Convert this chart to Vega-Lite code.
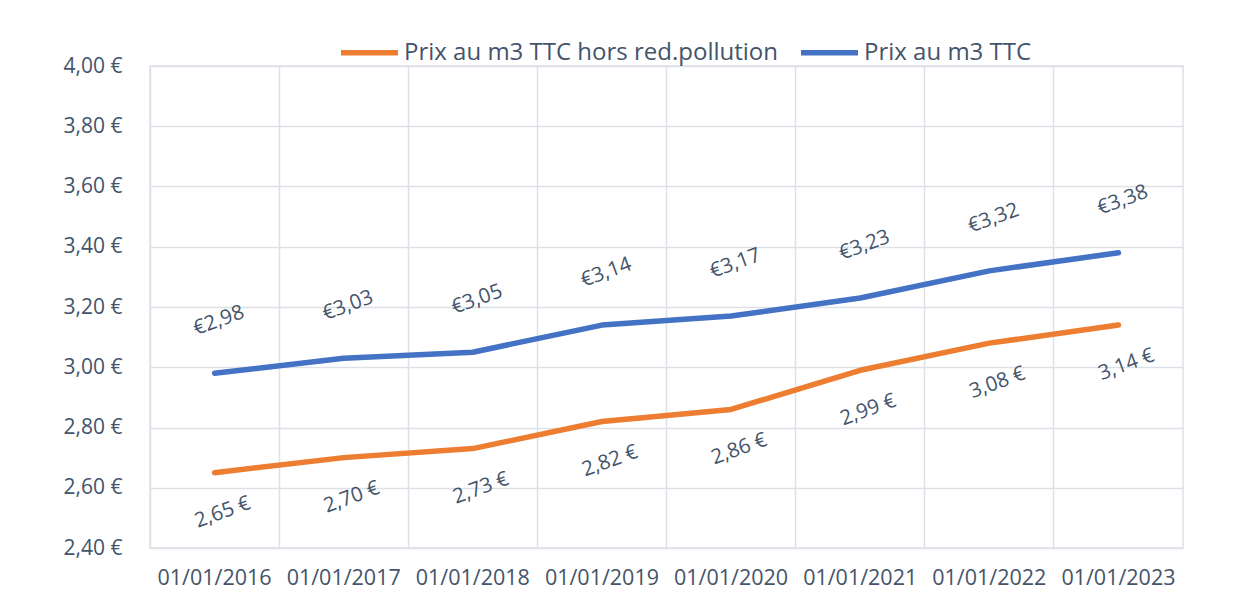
{
  "$schema": "https://vega.github.io/schema/vega-lite/v6.json",
  "width": 1033,
  "height": 482,
  "autosize": {"type": "none"},
  "padding": {"left": 150, "top": 66, "right": 51, "bottom": 68},
  "background": "white",
  "config": {
    "font": "Open Sans",
    "view": {"stroke": "#dde1e7", "strokeWidth": 1.5}
  },
  "data": {
    "values": [
      {"date": "01/01/2016", "series": "Prix au m3 TTC hors red.pollution", "value": 2.65, "label": "2,65 €"},
      {"date": "01/01/2017", "series": "Prix au m3 TTC hors red.pollution", "value": 2.70, "label": "2,70 €"},
      {"date": "01/01/2018", "series": "Prix au m3 TTC hors red.pollution", "value": 2.73, "label": "2,73 €"},
      {"date": "01/01/2019", "series": "Prix au m3 TTC hors red.pollution", "value": 2.82, "label": "2,82 €"},
      {"date": "01/01/2020", "series": "Prix au m3 TTC hors red.pollution", "value": 2.86, "label": "2,86 €"},
      {"date": "01/01/2021", "series": "Prix au m3 TTC hors red.pollution", "value": 2.99, "label": "2,99 €"},
      {"date": "01/01/2022", "series": "Prix au m3 TTC hors red.pollution", "value": 3.08, "label": "3,08 €"},
      {"date": "01/01/2023", "series": "Prix au m3 TTC hors red.pollution", "value": 3.14, "label": "3,14 €"},
      {"date": "01/01/2016", "series": "Prix au m3 TTC", "value": 2.98, "label": "€2,98"},
      {"date": "01/01/2017", "series": "Prix au m3 TTC", "value": 3.03, "label": "€3,03"},
      {"date": "01/01/2018", "series": "Prix au m3 TTC", "value": 3.05, "label": "€3,05"},
      {"date": "01/01/2019", "series": "Prix au m3 TTC", "value": 3.14, "label": "€3,14"},
      {"date": "01/01/2020", "series": "Prix au m3 TTC", "value": 3.17, "label": "€3,17"},
      {"date": "01/01/2021", "series": "Prix au m3 TTC", "value": 3.23, "label": "€3,23"},
      {"date": "01/01/2022", "series": "Prix au m3 TTC", "value": 3.32, "label": "€3,32"},
      {"date": "01/01/2023", "series": "Prix au m3 TTC", "value": 3.38, "label": "€3,38"}
    ]
  },
  "encoding": {
    "x": {
      "field": "date",
      "type": "ordinal",
      "sort": null,
      "scale": {"type": "band", "paddingInner": 0, "paddingOuter": 0},
      "axis": {
        "title": null,
        "bandPosition": 0,
        "grid": true,
        "gridColor": "#dde1e7",
        "gridWidth": 1.5,
        "ticks": false,
        "domain": false,
        "labelAngle": 0,
        "labelPadding": 30,
        "labelFontSize": 21.5,
        "labelColor": "#44546a",
        "labelBaseline": "middle"
      }
    },
    "y": {
      "field": "value",
      "type": "quantitative",
      "scale": {"domain": [2.4, 4.0], "nice": false, "zero": false},
      "axis": {
        "title": null,
        "values": [2.4, 2.6, 2.8, 3.0, 3.2, 3.4, 3.6, 3.8, 4.0],
        "labelExpr": "replace(format(datum.value, '.2f'), '.', ',') + ' €'",
        "grid": true,
        "gridColor": "#dde1e7",
        "gridWidth": 1.5,
        "ticks": false,
        "domain": false,
        "labelPadding": 28,
        "labelFontSize": 21,
        "labelColor": "#44546a"
      }
    }
  },
  "layer": [
    {
      "mark": {"type": "line", "strokeWidth": 5.5, "strokeCap": "round", "strokeJoin": "round"},
      "encoding": {
        "color": {
          "field": "series",
          "type": "nominal",
          "scale": {
            "domain": ["Prix au m3 TTC hors red.pollution", "Prix au m3 TTC"],
            "range": ["#ED7D31", "#4472C4"]
          },
          "legend": {
            "orient": "none",
            "legendX": 188,
            "legendY": -45,
            "direction": "horizontal",
            "title": null,
            "symbolType": "stroke",
            "symbolSize": 3249,
            "symbolStrokeWidth": 5.5,
            "labelFontSize": 24,
            "labelColor": "#44546a",
            "labelLimit": 800,
            "labelOffset": 3,
            "columnPadding": 12
          }
        }
      }
    },
    {
      "transform": [{"filter": "datum.series === 'Prix au m3 TTC'"}],
      "mark": {"type": "text", "angle": -20, "dx": 22, "dy": -48, "fontSize": 20.5, "color": "#44546a", "align": "center", "baseline": "middle"},
      "encoding": {"text": {"field": "label"}}
    },
    {
      "transform": [{"filter": "datum.series !== 'Prix au m3 TTC'"}],
      "mark": {"type": "text", "angle": -20, "dx": -6, "dy": 40, "fontSize": 20.5, "color": "#44546a", "align": "center", "baseline": "middle"},
      "encoding": {"text": {"field": "label"}}
    }
  ]
}
